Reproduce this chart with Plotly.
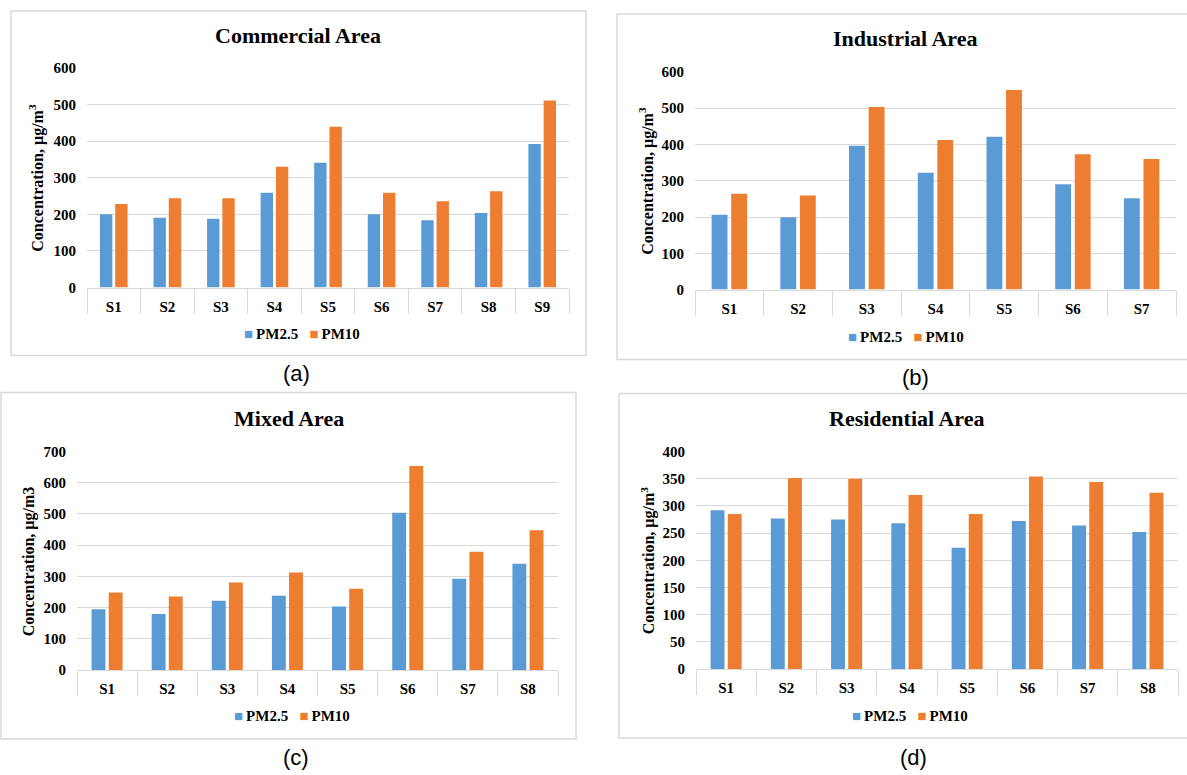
import plotly.graph_objects as go

# ---------------- data ----------------
cats_a = ["S1", "S2", "S3", "S4", "S5", "S6", "S7", "S8", "S9"]
pm25_a = [200, 191, 188, 259, 341, 200, 184, 204, 392]
pm10_a = [228, 244, 244, 330, 439, 259, 236, 263, 511]

cats_b = ["S1", "S2", "S3", "S4", "S5", "S6", "S7"]
pm25_b = [206, 199, 396, 322, 421, 290, 252]
pm10_b = [264, 259, 503, 412, 550, 373, 360]

cats_c = ["S1", "S2", "S3", "S4", "S5", "S6", "S7", "S8"]
pm25_c = [195, 180, 222, 238, 204, 504, 293, 341]
pm10_c = [249, 236, 281, 313, 261, 653, 379, 448]

cats_d = ["S1", "S2", "S3", "S4", "S5", "S6", "S7", "S8"]
pm25_d = [292, 277, 275, 268, 223, 272, 264, 252]
pm10_d = [285, 351, 350, 320, 285, 354, 344, 324]

series_names = ["PM2.5", "PM10"]
titles = ["Commercial Area", "Industrial Area", "Mixed Area", "Residential Area"]
y_titles = ["Concentration, µg/m<sup>3</sup>", "Concentration, µg/m<sup>3</sup>",
            "Concentration, µg/m3", "Concentration, µg/m<sup>3</sup>"]
captions = ["(a)", "(b)", "(c)", "(d)"]
y_max = [600, 600, 700, 400]
y_step = [100, 100, 100, 50]

# ---------------- layout geometry (pixels) ----------------
W, H = 1187, 775
plots = [(87, 569, 67, 287), (695, 1176, 71, 289), (77, 558, 451, 670), (696, 1178, 451, 669)]
boxes = [(11, 586, 10, 355), (617, 1190, 13, 359), (1, 576, 392, 739), (619, 1190, 393, 738)]
title_pos = [(298, 35), (905, 38), (289, 418), (906, 418)]
ytitle_pos = [(37, 177), (647, 180), (29, 561), (648, 560)]
legend_pos = [(302, 333), (906, 336), (292, 716), (910, 716)]
caption_pos = [(296, 373), (915, 377), (296, 757), (913, 757)]

BLUE = "#5b9bd5"
ORANGE = "#ed7d31"
GRID = "#d9d9d9"
SERIF = "Liberation Serif"

# the captured page is slightly squeezed vertically: image_y ~= 0.9804*y + 7.1
V_SCALE, V_OFF = 0.9804, 7.1


def fx(p):
    return p / W


def fy(p):
    return 1 - ((p - V_OFF) / V_SCALE) / H


data = [(cats_a, pm25_a, pm10_a), (cats_b, pm25_b, pm10_b),
        (cats_c, pm25_c, pm10_c), (cats_d, pm25_d, pm10_d)]

fig = go.Figure()
annotations = []
shapes = []
layout_extra = {}

for i, (cats, p25, p10) in enumerate(data):
    k = "" if i == 0 else str(i + 1)
    xa, ya = "x" + k, "y" + k
    fig.add_trace(go.Bar(x=cats, y=p25, name=series_names[0], marker_color=BLUE,
                         xaxis=xa, yaxis=ya, marker_line_width=0, showlegend=False))
    fig.add_trace(go.Bar(x=cats, y=p10, name=series_names[1], marker_color=ORANGE,
                         xaxis=xa, yaxis=ya, marker_line_width=0, showlegend=False))

    x0, x1, y0, y1 = plots[i]
    n = len(cats)
    layout_extra["xaxis" + k] = dict(
        domain=[fx(x0), fx(x1)], anchor=ya, type="category",
        range=[-0.5, n - 0.5], tickson="boundaries", ticks="outside",
        ticklen=25, tickcolor=GRID, tickwidth=1, showline=True, linecolor=GRID,
        linewidth=1, showgrid=False, ticklabelstandoff=5,
        tickfont=dict(family=SERIF, size=15, color="black", weight="bold"))
    layout_extra["yaxis" + k] = dict(
        domain=[fy(y1), fy(y0)], anchor=xa, range=[0, y_max[i]], dtick=y_step[i],
        showgrid=True, gridcolor=GRID, gridwidth=1, zeroline=False, showline=False,
        ticks="", ticklabelstandoff=10,
        tickfont=dict(family=SERIF, size=15, color="black", weight="bold"))

    bx0, bx1, by0, by1 = boxes[i]
    shapes.append(dict(type="rect", xref="paper", yref="paper",
                       x0=fx(bx0), x1=fx(bx1), y0=fy(by1), y1=fy(by0),
                       line=dict(color=GRID, width=1.5), fillcolor="rgba(0,0,0,0)",
                       layer="below"))

    tx, ty = title_pos[i]
    annotations.append(dict(text="<b>" + titles[i] + "</b>", x=fx(tx), y=fy(ty),
                            xref="paper", yref="paper", showarrow=False,
                            xanchor="center", yanchor="middle",
                            font=dict(family=SERIF, size=22, color="black")))
    yx, yy = ytitle_pos[i]
    annotations.append(dict(text="<b>" + y_titles[i] + "</b>", x=fx(yx), y=fy(yy),
                            xref="paper", yref="paper", showarrow=False, textangle=-90,
                            xanchor="center", yanchor="middle",
                            font=dict(family=SERIF, size=16, color="black")))
    lx, ly = legend_pos[i]
    legend_text = ("<span style='color:%s'>■</span>&#8201;<b>%s</b>&nbsp;&nbsp;&nbsp;"
                   "<span style='color:%s'>■</span>&#8201;<b>%s</b>") % (
        BLUE, series_names[0], ORANGE, series_names[1])
    annotations.append(dict(text=legend_text, x=fx(lx), y=fy(ly),
                            xref="paper", yref="paper", showarrow=False,
                            xanchor="center", yanchor="middle",
                            font=dict(family=SERIF, size=15, color="black")))
    cx, cy = caption_pos[i]
    annotations.append(dict(text=captions[i], x=fx(cx), y=fy(cy),
                            xref="paper", yref="paper", showarrow=False,
                            xanchor="center", yanchor="middle",
                            font=dict(family="Liberation Sans", size=22, color="black")))

fig.update_layout(
    width=W, height=H, margin=dict(l=0, r=0, t=0, b=0),
    paper_bgcolor="white", plot_bgcolor="white",
    barmode="group", bargap=0.43, bargroupgap=0.19,
    showlegend=False, annotations=annotations, shapes=shapes,
    **layout_extra)

fig.write_html("out.html", config={"displayModeBar": False},
               post_script="document.body.style.margin='0';document.body.style.overflow='hidden';")
